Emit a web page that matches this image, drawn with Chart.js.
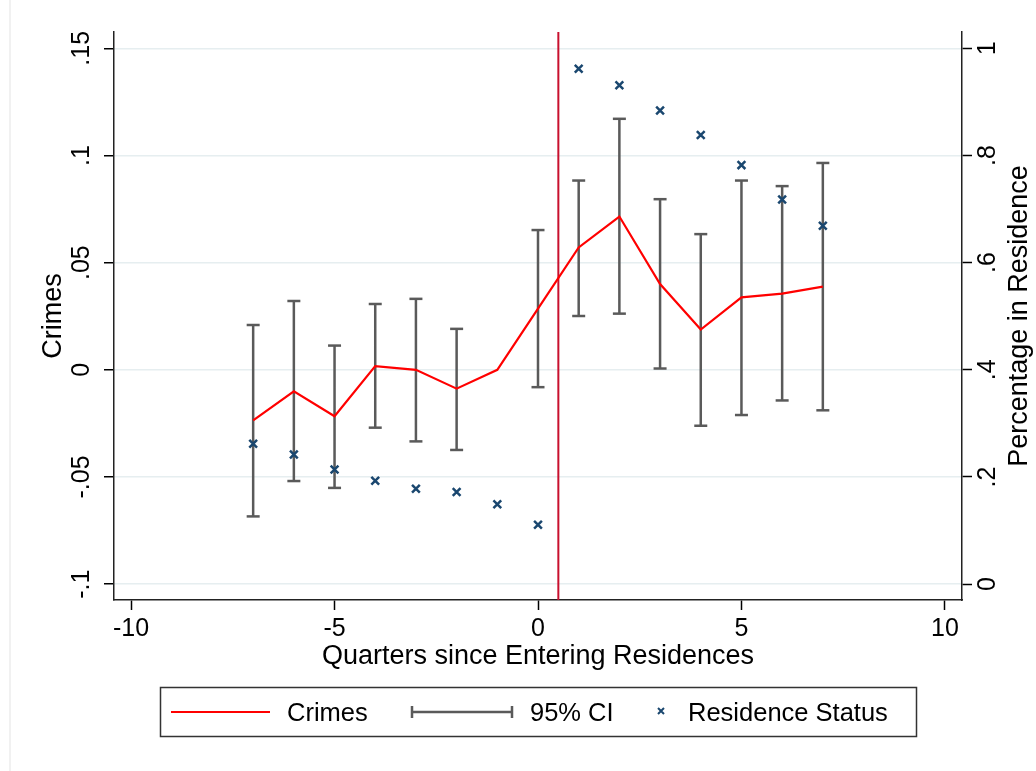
<!DOCTYPE html>
<html>
<head>
<meta charset="utf-8">
<script src="https://cdn.jsdelivr.net/npm/chart.js@4"></script>
<style>
  html, body { margin: 0; padding: 0; background: #fff; }
  #wrap { position: relative; width: 1036px; height: 771px; }
</style>
</head>
<body>
<div id="wrap"><canvas id="chart"></canvas></div>
<script>
/* ── data ───────────────────────────────────────────── */
const QUARTERS  = [-7, -6, -5, -4, -3, -2, -1, 0, 1, 2, 3, 4, 5, 6, 7];
const CRIMES    = [-0.0236, -0.0100, -0.0217, 0.0017, 0.0000, -0.0088, 0.0000, 0.0285,
                   0.0571, 0.0715, 0.0400, 0.0188, 0.0338, 0.0355, 0.0388];
const CI_HIGH   = [0.0209, 0.0321, 0.0113, 0.0307, 0.0331, 0.0191, null, 0.0652,
                   0.0883, 0.1171, 0.0796, 0.0633, 0.0883, 0.0857, 0.0965];
const CI_LOW    = [-0.0684, -0.0519, -0.0551, -0.0270, -0.0334, -0.0374, null, -0.0081,
                   0.0251, 0.0262, 0.0006, -0.0261, -0.0211, -0.0143, -0.0189];
const RESIDENCE = [0.262, 0.242, 0.214, 0.193, 0.178, 0.172, 0.149, 0.111,
                   0.962, 0.931, 0.884, 0.838, 0.782, 0.718, 0.669];
const XLINE = 0.5;   // treatment line

/* ── axes ───────────────────────────────────────────── */
const X_TICKS  = [-10, -5, 0, 5, 10];
const Y_TICKS  = [-0.1, -0.05, 0, 0.05, 0.1, 0.15];
const Y_LABELS = ['-.1', '-.05', '0', '.05', '.1', '.15'];
const R_TICKS  = [0, 0.2, 0.4, 0.6, 0.8, 1];
const R_LABELS = ['0', '.2', '.4', '.6', '.8', '1'];
const X_MIN = -10.42, X_MAX = 10.42;
const Y_MIN = -0.1074, Y_MAX = 0.1576;
const R_MIN = (Y_MIN + 0.1) / 0.25, R_MAX = (Y_MAX + 0.1) / 0.25;

const FONT = '"Liberation Sans", Arial, Helvetica, sans-serif';
const RED = '#ff0000', GREY = '#5a5a5a', NAVY = '#1a476f', XLINE_COL = '#c8102e';

/* CI whiskers: low/high pairs split by gaps */
const ciData = [];
QUARTERS.forEach((q, i) => {
  if (CI_LOW[i] === null) return;
  ciData.push({ x: q, y: CI_LOW[i] }, { x: q, y: CI_HIGH[i] }, { x: q, y: null });
});

const setTicks = vals => s => { s.ticks = vals.map(v => ({ value: v })); };

/* ── titles, legend, outer frame ─────────────────────── */
const decor = {
  id: 'decor',
  beforeDraw (chart) {
    const c = chart.ctx;
    c.save();
    c.strokeStyle = '#ececec'; c.lineWidth = 1.5;
    c.beginPath(); c.moveTo(10, 0); c.lineTo(10, chart.height); c.stroke();
    c.restore();
  },
  afterDraw (chart) {
    const c = chart.ctx, a = chart.chartArea;
    const midY = (a.top + a.bottom) / 2;
    c.save();
    c.fillStyle = '#000';
    c.textAlign = 'center'; c.textBaseline = 'middle';
    c.font = '27px ' + FONT;
    c.fillText('Quarters since Entering Residences', (a.left + a.right) / 2, 657);
    c.save(); c.translate(54, midY); c.rotate(-Math.PI / 2);
    c.fillText('Crimes', 0, 0); c.restore();
    c.save(); c.translate(1020, midY); c.rotate(-Math.PI / 2);
    c.fillText('Percentage in Residence', 0, 0); c.restore();

    // legend
    const ly = 712;
    c.strokeStyle = '#333'; c.lineWidth = 1.5;
    c.strokeRect(160.5, 687.5, 756, 49);
    c.strokeStyle = RED; c.lineWidth = 2;
    c.beginPath(); c.moveTo(171, ly); c.lineTo(270, ly); c.stroke();
    c.strokeStyle = GREY; c.lineWidth = 2.5;
    c.beginPath();
    c.moveTo(412, ly); c.lineTo(512, ly);
    c.moveTo(412, ly - 6); c.lineTo(412, ly + 6);
    c.moveTo(512, ly - 6); c.lineTo(512, ly + 6);
    c.stroke();
    c.strokeStyle = NAVY; c.lineWidth = 2;
    c.beginPath();
    c.moveTo(658, 708); c.lineTo(664, 714);
    c.moveTo(664, 708); c.lineTo(658, 714);
    c.stroke();
    c.fillStyle = '#000'; c.textAlign = 'left';
    c.font = '25.5px ' + FONT;
    c.fillText('Crimes', 287, ly + 2);
    c.fillText('95% CI', 530, ly + 2);
    c.fillText('Residence Status', 688, ly + 2);
    c.restore();
  }
};

new Chart(document.getElementById('chart'), {
  type: 'line',
  data: {
    datasets: [
      { label: 'Residence Status', yAxisID: 'y2', order: 0,
        data: QUARTERS.map((q, i) => ({ x: q, y: RESIDENCE[i] })),
        showLine: false, pointStyle: 'crossRot', pointRadius: 5.5,
        pointBorderColor: NAVY, pointBorderWidth: 2.5 },
      { label: 'Crimes', yAxisID: 'y', order: 1,
        data: QUARTERS.map((q, i) => ({ x: q, y: CRIMES[i] })),
        borderColor: RED, borderWidth: 2.2, pointRadius: 0, tension: 0 },
      { label: 'xline', yAxisID: 'y', order: 2,
        data: [{ x: XLINE, y: Y_MIN }, { x: XLINE, y: Y_MAX }],
        borderColor: XLINE_COL, borderWidth: 2, pointRadius: 0 },
      { label: '95% CI', yAxisID: 'y', order: 3,
        data: ciData, spanGaps: false,
        borderColor: GREY, borderWidth: 2.5,
        pointStyle: 'line', pointRadius: 6.5,
        pointBorderColor: GREY, pointBorderWidth: 2.5 }
    ]
  },
  options: {
    responsive: true, maintainAspectRatio: false,
    animation: false, events: [],
    layout: { padding: { top: 32, bottom: 99, left: 0, right: 0 } },
    plugins: { legend: { display: false }, tooltip: { enabled: false } },
    scales: {
      x: {
        type: 'linear', min: X_MIN, max: X_MAX,
        afterBuildTicks: setTicks(X_TICKS),
        afterFit: s => { s.height = 72; },
        grid: { drawOnChartArea: false, tickLength: 10, tickColor: '#000', tickWidth: 1.5 },
        border: { display: true, color: '#222', width: 1.5 },
        ticks: { color: '#000', font: { family: FONT, size: 25 }, padding: 4,
                 maxRotation: 0, autoSkip: false }
      },
      y: {
        type: 'linear', position: 'left', min: Y_MIN, max: Y_MAX,
        afterBuildTicks: setTicks(Y_TICKS),
        afterFit: s => { s.width = 114; },
        grid: { color: '#e6eef0', lineWidth: 1.5, tickLength: 10, tickColor: '#000', tickWidth: 1.5 },
        border: { display: true, color: '#222', width: 1.5 },
        ticks: { color: '#000', font: { family: FONT, size: 25 }, padding: 0,
                 minRotation: 90, maxRotation: 90, crossAlign: 'center', autoSkip: false,
                 callback: (v, i) => Y_LABELS[i] }
      },
      y2: {
        type: 'linear', position: 'right', min: R_MIN, max: R_MAX,
        afterBuildTicks: setTicks(R_TICKS),
        afterFit: s => { s.width = 74; },
        grid: { drawOnChartArea: false, tickLength: 10, tickColor: '#000', tickWidth: 1.5 },
        border: { display: true, color: '#222', width: 1.5 },
        ticks: { color: '#000', font: { family: FONT, size: 25 }, padding: 5.5,
                 minRotation: 90, maxRotation: 90, crossAlign: 'center', autoSkip: false,
                 callback: (v, i) => R_LABELS[i] }
      }
    }
  },
  plugins: [decor]
});
</script>
</body>
</html>
